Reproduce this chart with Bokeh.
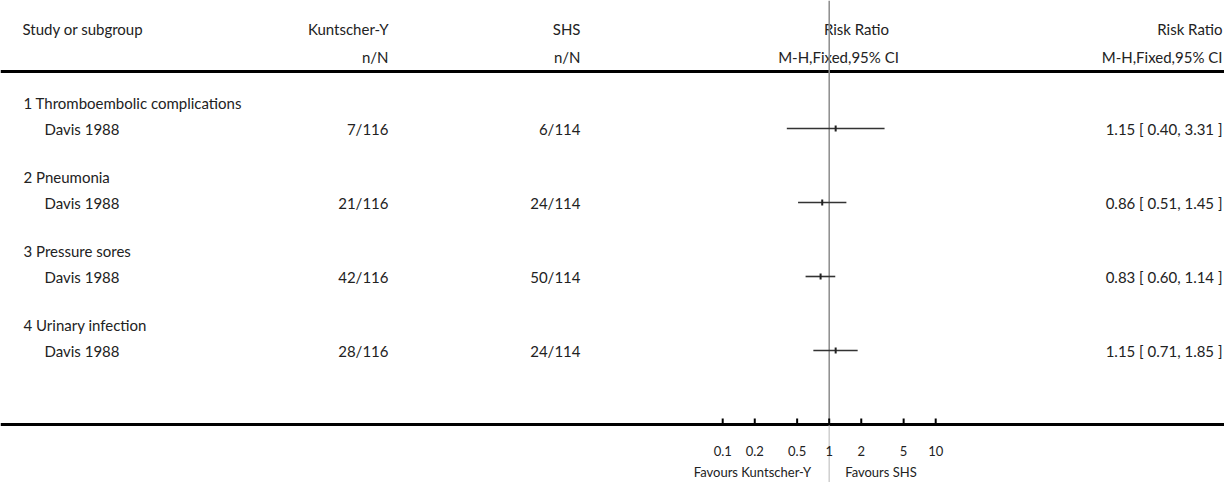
import math
from bokeh.plotting import figure
from bokeh.models import Range1d, LogScale, ColumnDataSource
from bokeh.core.properties import value
from bokeh.embed import file_html
from bokeh.resources import INLINE

# ---- data ----
outcomes = ["1 Thromboembolic complications", "2 Pneumonia", "3 Pressure sores", "4 Urinary infection"]
studies = ["Davis 1988", "Davis 1988", "Davis 1988", "Davis 1988"]
kuntscher_nN = ["7/116", "21/116", "42/116", "28/116"]
shs_nN = ["6/114", "24/114", "50/114", "24/114"]
rr = [1.15, 0.86, 0.83, 1.15]
ci_lo = [0.40, 0.51, 0.60, 0.71]
ci_hi = [3.31, 1.45, 1.14, 1.85]
ticks = [0.1, 0.2, 0.5, 1, 2, 5, 10]
tick_labels = ["0.1", "0.2", "0.5", "1", "2", "5", "10"]

FONT = value("Lato")
TXT = "#222222"
FS = "15px"

# layout (canvas pixel coordinates)
W, H = 1224, 482
one_x = 828.7
per_dec = 106.5
row_y = [128 + 74 * i for i in range(len(outcomes))]
head_y = [y - 26 for y in row_y]

p = figure(width=W, height=H, x_range=Range1d(0, W), y_range=Range1d(H, 0),
           output_backend="svg", toolbar_location=None, min_border=0,
           x_axis_location=None, y_axis_location=None)
p.grid.visible = False
p.outline_line_color = None
p.background_fill_color = "white"
p.border_fill_color = "white"
p.extra_x_ranges = {"rr": Range1d(10 ** ((0 - one_x) / per_dec), 10 ** ((W - one_x) / per_dec))}
p.extra_x_scales = {"rr": LogScale()}

def txt(x, y, t, align="left", size=FS, color=TXT, rng="default", xoff=0):
    p.text(x=x, y=y, text=t, text_align=align, text_baseline="middle",
           text_font=FONT, text_font_size=size, text_color=color,
           x_range_name=rng, x_offset=xoff)

# header
txt([22], [28], ["Study or subgroup"])
txt([388, 580], [28, 28], ["Kuntscher-Y", "SHS"], align="right")
txt([388, 580], [56, 56], ["n/N", "n/N"], align="right")
txt([856], [28], ["Risk Ratio"], align="center")
txt([838], [56], ["M-H,Fixed,95% CI"], align="center")
txt([1222], [28], ["Risk Ratio"], align="right")
txt([1222], [56], ["M-H,Fixed,95% CI"], align="right")

# horizontal rules
p.hspan(y=[70.5, 423.5], line_color="black", line_width=3)

# reference line at RR = 1
p.segment(x0=[1], x1=[1], y0=[0], y1=[422], x_range_name="rr", line_color="#8c8c8c", line_width=1.5)
p.segment(x0=[1], x1=[1], y0=[425], y1=[H], x_range_name="rr", line_color="#cfcfcf", line_width=1.5)

# rows
txt([23] * 4, head_y, outcomes)
txt([44] * 4, row_y, studies)
txt([388] * 4, row_y, kuntscher_nN, align="right")
txt([580] * 4, row_y, shs_nN, align="right")
ci_text = ["%.2f [ %.2f, %.2f ]" % (a, b, c) for a, b, c in zip(rr, ci_lo, ci_hi)]
txt([1222] * 4, row_y, ci_text, align="right")

src = ColumnDataSource(dict(rr=rr, lo=ci_lo, hi=ci_hi, y=row_y))
p.segment(x0="lo", x1="hi", y0="y", y1="y", source=src, x_range_name="rr",
          line_color="#333333", line_width=1.6)
p.rect(x="rr", y="y", width=2, height=6, width_units="screen", height_units="screen",
       source=src, x_range_name="rr", fill_color="#222222", line_color=None)

# axis ticks and labels
p.segment(x0=ticks, x1=ticks, y0=[418] * len(ticks), y1=[423] * len(ticks),
          x_range_name="rr", line_color="black", line_width=2)
txt(ticks, [450] * len(ticks), tick_labels, align="center", size="13px", rng="rr")
txt([1], [471], ["Favours Kuntscher-Y"], align="right", size="13px", rng="rr", xoff=-18)
txt([1], [471], ["Favours SHS"], align="left", size="13px", rng="rr", xoff=16)

open("out.html", "w").write(file_html(p, INLINE))
